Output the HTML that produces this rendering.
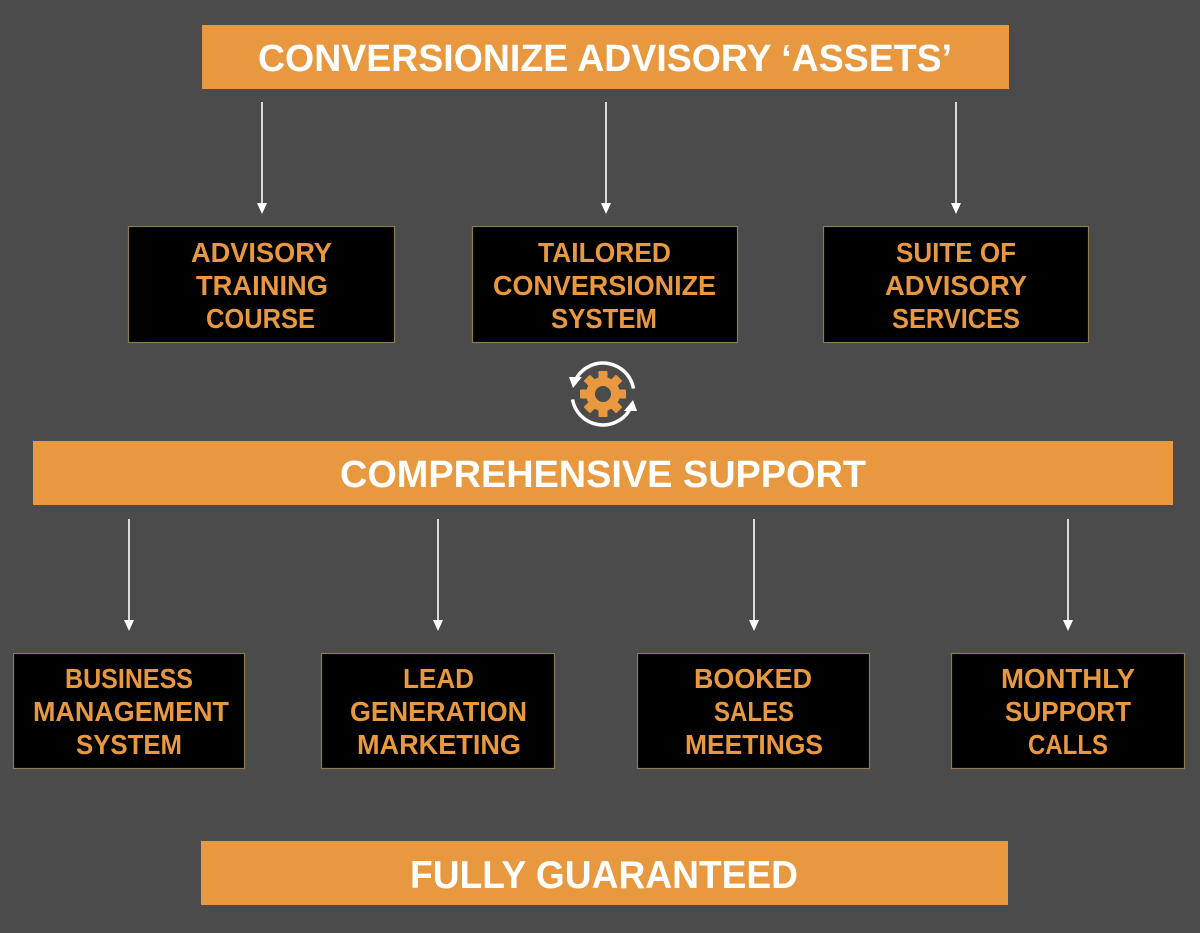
<!DOCTYPE html>
<html>
<head>
<meta charset="utf-8">
<style>
  html, body { margin: 0; padding: 0; background: #4b4b4b; }
  svg { display: block; }
  .ban { font-family: "Liberation Sans", Arial, sans-serif; font-weight: bold; fill: #ffffff; }
  .bx { font-family: "Liberation Sans", Arial, sans-serif; font-weight: bold; fill: #e8983e; font-size: 28px; }
</style>
</head>
<body>
<svg width="1200" height="933" viewBox="0 0 1200 933" xmlns="http://www.w3.org/2000/svg">
  <rect x="0" y="0" width="1200" height="933" fill="#4b4b4b"/>

  <!-- Top banner -->
  <rect x="202" y="25" width="807" height="64" fill="#e8983e"/>
  <text class="ban" x="258" y="71" font-size="38" textLength="694" lengthAdjust="spacingAndGlyphs">CONVERSIONIZE ADVISORY ‘ASSETS’</text>

  <!-- Top arrows -->
  <g stroke="#ffffff" stroke-width="1.6">
    <line x1="262" y1="102" x2="262" y2="205"/>
    <line x1="606" y1="102" x2="606" y2="205"/>
    <line x1="956" y1="102" x2="956" y2="205"/>
  </g>
  <g fill="#ffffff">
    <polygon points="257,203 267,203 262,214"/>
    <polygon points="601,203 611,203 606,214"/>
    <polygon points="951,203 961,203 956,214"/>
  </g>

  <!-- Top boxes -->
  <g fill="#000000" stroke="#8a7a52" stroke-width="1.2">
    <rect x="128.5" y="226.5" width="266" height="116"/>
    <rect x="472.5" y="226.5" width="265" height="116"/>
    <rect x="823.5" y="226.5" width="265" height="116"/>
  </g>
  <text class="bx" x="191" y="262" textLength="141" lengthAdjust="spacingAndGlyphs">ADVISORY</text>
  <text class="bx" x="196" y="295" textLength="132" lengthAdjust="spacingAndGlyphs">TRAINING</text>
  <text class="bx" x="206" y="328" textLength="109" lengthAdjust="spacingAndGlyphs">COURSE</text>

  <text class="bx" x="538" y="262" textLength="133" lengthAdjust="spacingAndGlyphs">TAILORED</text>
  <text class="bx" x="493" y="295" textLength="223" lengthAdjust="spacingAndGlyphs">CONVERSIONIZE</text>
  <text class="bx" x="551" y="328" textLength="106" lengthAdjust="spacingAndGlyphs">SYSTEM</text>

  <text class="bx" x="896" y="262" textLength="120" lengthAdjust="spacingAndGlyphs">SUITE OF</text>
  <text class="bx" x="885" y="295" textLength="142" lengthAdjust="spacingAndGlyphs">ADVISORY</text>
  <text class="bx" x="892" y="328" textLength="128" lengthAdjust="spacingAndGlyphs">SERVICES</text>

  <!-- Gear icon -->
  <g transform="translate(603,394)">
    <!-- gear -->
    <g fill="#e8983e">
      <circle r="17"/>
      <rect x="-4.5" y="-23" width="9" height="10" rx="1"/>
      <rect x="-4.5" y="-23" width="9" height="10" rx="1" transform="rotate(45)"/>
      <rect x="-4.5" y="-23" width="9" height="10" rx="1" transform="rotate(90)"/>
      <rect x="-4.5" y="-23" width="9" height="10" rx="1" transform="rotate(135)"/>
      <rect x="-4.5" y="-23" width="9" height="10" rx="1" transform="rotate(180)"/>
      <rect x="-4.5" y="-23" width="9" height="10" rx="1" transform="rotate(225)"/>
      <rect x="-4.5" y="-23" width="9" height="10" rx="1" transform="rotate(270)"/>
      <rect x="-4.5" y="-23" width="9" height="10" rx="1" transform="rotate(315)"/>
    </g>
    <circle r="8" fill="#4b4b4b"/>
    <!-- circular arrows -->
    <g fill="none" stroke="#ffffff" stroke-width="3.5">
      <!-- arc 1: from ~350deg counterclockwise over top to ~212deg -->
      <path d="M 30.5 -5.4 A 31 31 0 0 0 -26.3 -16.4"/>
      <!-- arc 2: from ~170deg counterclockwise over bottom to ~32deg -->
      <path d="M -30.5 5.4 A 31 31 0 0 0 26.3 16.4"/>
    </g>
    <g fill="#ffffff">
      <!-- arrowhead at upper-left pointing down-left -->
      <polygon points="-34,-17 -21,-17 -30,-6"/>
      <!-- arrowhead at lower-right pointing up-right -->
      <polygon points="34,17 21,17 30,6"/>
    </g>
  </g>

  <!-- Comprehensive support banner -->
  <rect x="33" y="441" width="1140" height="64" fill="#e8983e"/>
  <text class="ban" x="340" y="487" font-size="38" textLength="526" lengthAdjust="spacingAndGlyphs">COMPREHENSIVE SUPPORT</text>

  <!-- Bottom arrows -->
  <g stroke="#ffffff" stroke-width="1.6">
    <line x1="129" y1="519" x2="129" y2="622"/>
    <line x1="438" y1="519" x2="438" y2="622"/>
    <line x1="754" y1="519" x2="754" y2="622"/>
    <line x1="1068" y1="519" x2="1068" y2="622"/>
  </g>
  <g fill="#ffffff">
    <polygon points="124,620 134,620 129,631"/>
    <polygon points="433,620 443,620 438,631"/>
    <polygon points="749,620 759,620 754,631"/>
    <polygon points="1063,620 1073,620 1068,631"/>
  </g>

  <!-- Bottom boxes -->
  <g fill="#000000" stroke="#8a7a52" stroke-width="1.2">
    <rect x="13.5" y="653.5" width="231" height="115"/>
    <rect x="321.5" y="653.5" width="233" height="115"/>
    <rect x="637.5" y="653.5" width="232" height="115"/>
    <rect x="951.5" y="653.5" width="233" height="115"/>
  </g>
  <text class="bx" x="65" y="688" textLength="128" lengthAdjust="spacingAndGlyphs">BUSINESS</text>
  <text class="bx" x="33" y="721" textLength="196" lengthAdjust="spacingAndGlyphs">MANAGEMENT</text>
  <text class="bx" x="76" y="754" textLength="106" lengthAdjust="spacingAndGlyphs">SYSTEM</text>

  <text class="bx" x="403" y="688" textLength="71" lengthAdjust="spacingAndGlyphs">LEAD</text>
  <text class="bx" x="350" y="721" textLength="177" lengthAdjust="spacingAndGlyphs">GENERATION</text>
  <text class="bx" x="357" y="754" textLength="164" lengthAdjust="spacingAndGlyphs">MARKETING</text>

  <text class="bx" x="694" y="688" textLength="118" lengthAdjust="spacingAndGlyphs">BOOKED</text>
  <text class="bx" x="714" y="721" textLength="80" lengthAdjust="spacingAndGlyphs">SALES</text>
  <text class="bx" x="685" y="754" textLength="138" lengthAdjust="spacingAndGlyphs">MEETINGS</text>

  <text class="bx" x="1001" y="688" textLength="134" lengthAdjust="spacingAndGlyphs">MONTHLY</text>
  <text class="bx" x="1005" y="721" textLength="126" lengthAdjust="spacingAndGlyphs">SUPPORT</text>
  <text class="bx" x="1028" y="754" textLength="80" lengthAdjust="spacingAndGlyphs">CALLS</text>

  <!-- Fully guaranteed banner -->
  <rect x="201" y="841" width="807" height="64" fill="#e8983e"/>
  <text class="ban" x="410" y="888" font-size="39" textLength="388" lengthAdjust="spacingAndGlyphs">FULLY GUARANTEED</text>
</svg>
</body>
</html>
